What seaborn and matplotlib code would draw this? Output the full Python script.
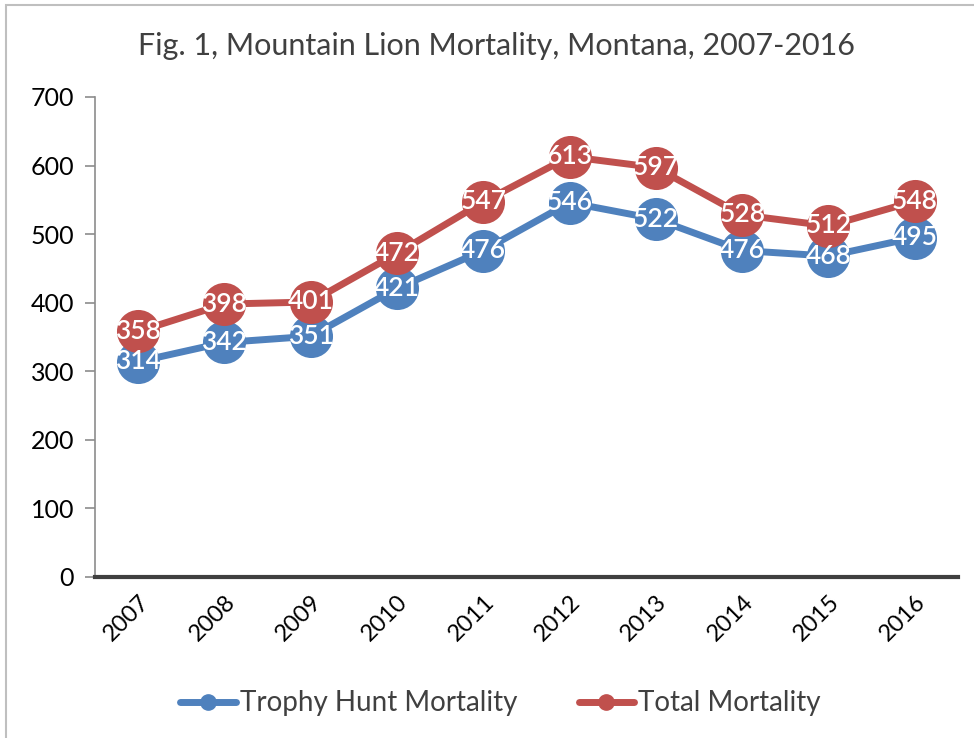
import matplotlib
matplotlib.use("Agg")
import matplotlib.pyplot as plt
import seaborn as sns
import pandas as pd
from matplotlib.patches import Rectangle
from matplotlib.lines import Line2D

years = ["2007", "2008", "2009", "2010", "2011", "2012", "2013", "2014", "2015", "2016"]
trophy = [314, 342, 351, 421, 476, 546, 522, 476, 468, 495]
total = [358, 398, 401, 472, 547, 613, 597, 528, 512, 548]
series_names = ["Trophy Hunt Mortality", "Total Mortality"]
colors = ["#4F81BD", "#C0504D"]

sns.set_theme(style="white")
plt.rcParams['font.family'] = ['Lato', 'DejaVu Sans']

df = pd.DataFrame({
    "Year": years * 2,
    "x": list(range(len(years))) * 2,
    "Value": trophy + total,
    "Series": [series_names[0]] * len(years) + [series_names[1]] * len(years),
})

fig = plt.figure(figsize=(9.74, 7.38), dpi=100)
ax = fig.add_axes([0.0975, 0.2182, 0.886, 0.6504])

sns.lineplot(data=df, x="x", y="Value", hue="Series", palette=colors,
             marker="o", markersize=31, linewidth=5, markeredgewidth=0,
             ax=ax, legend=False)

for vals, c in zip([trophy, total], colors):
    for i, v in enumerate(vals):
        ax.text(i, v, str(v), ha="center", va="center", color="white",
                fontsize=19, fontweight="semibold", zorder=5)

ax.set_xlim(-0.5, len(years) - 0.5)
ax.set_ylim(0, 700)
ax.set_yticks(range(0, 701, 100))
ax.set_xticks(range(len(years)))
ax.set_xticklabels(years, rotation=45, ha="right", va="top",
                   rotation_mode="anchor", fontsize=17, color="#000000")
ax.tick_params(axis="y", labelsize=18, colors="#000000", length=7,
               width=1.2, color="#8c8c8c", left=True, pad=8)
ax.tick_params(axis="x", length=0, pad=10)
for lab in ax.get_yticklabels():
    lab.set_color("black")
ax.set_xlabel("")
ax.set_ylabel("")
for s in ["top", "right"]:
    ax.spines[s].set_visible(False)
ax.spines["left"].set_color("#8c8c8c")
ax.spines["left"].set_linewidth(1.2)
ax.spines["bottom"].set_color("#404040")
ax.spines["bottom"].set_linewidth(3)

fig.text(0.51, 0.938, "Fig. 1, Mountain Lion Mortality, Montana, 2007-2016",
         ha="center", va="center", fontsize=22, color="#404040")

handles = [Line2D([0], [0], color=c, linewidth=5, marker="o", markersize=11)
           for c in colors]
fig.legend(handles, series_names, loc="center", bbox_to_anchor=(0.514, 0.047),
           ncol=2, frameon=False, fontsize=20, handlelength=2.0,
           handletextpad=0.15, columnspacing=2.2, labelcolor="#404040")

fig.patches.append(Rectangle((0.006, -0.01), 1.1, 1.003, transform=fig.transFigure,
                             fill=False, edgecolor="#bfbfbf", linewidth=1.5))

fig.savefig("out.png", dpi=100)
